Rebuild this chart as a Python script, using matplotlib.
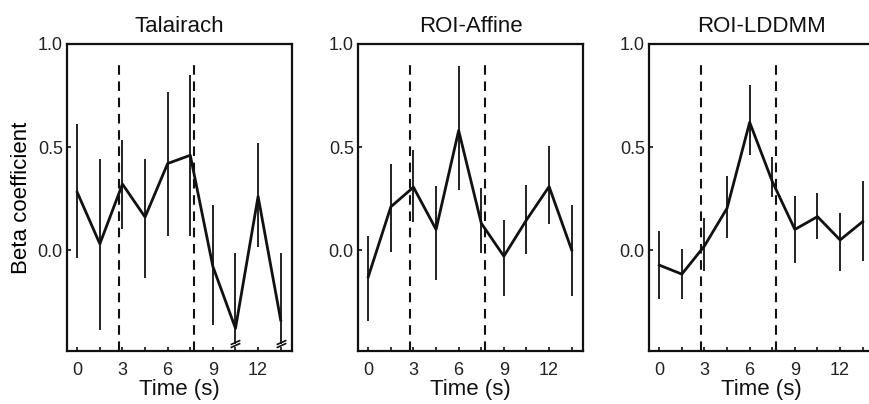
import matplotlib.pyplot as plt
import numpy as np

plt.rcParams["font.family"] = ["Liberation Sans", "DejaVu Sans"]

time_s = [0, 1.5, 3, 4.5, 6, 7.5, 9, 10.5, 12, 13.5]
titles = ["Talairach", "ROI-Affine", "ROI-LDDMM"]

tal_mean = [0.28, 0.03, 0.32, 0.16, 0.42, 0.46, -0.08, -0.38, 0.26, -0.34]
tal_low = [-0.04, -0.39, 0.10, -0.135, 0.07, 0.07, -0.365, -0.455, 0.016, -0.455]
tal_high = [0.61, 0.44, 0.535, 0.44, 0.765, 0.85, 0.22, -0.016, 0.52, -0.016]

aff_mean = [-0.13, 0.21, 0.305, 0.10, 0.58, 0.13, -0.03, 0.146, 0.308, 0.0]
aff_low = [-0.345, -0.01, 0.138, -0.146, 0.29, -0.016, -0.225, -0.021, 0.127, -0.225]
aff_high = [0.068, 0.42, 0.484, 0.313, 0.895, 0.30, 0.146, 0.317, 0.503, 0.219]

ldd_mean = [-0.073, -0.117, 0.02, 0.203, 0.62, 0.333, 0.10, 0.162, 0.049, 0.138]
ldd_low = [-0.239, -0.239, -0.10, 0.057, 0.463, 0.256, -0.065, 0.052, -0.10, -0.052]
ldd_high = [0.094, 0.003, 0.154, 0.357, 0.80, 0.451, 0.263, 0.276, 0.182, 0.333]

stim_lines = [2.75, 7.75]
broken_times = [10.5, 13.5]

series = [(tal_mean, tal_low, tal_high), (aff_mean, aff_low, aff_high),
          (ldd_mean, ldd_low, ldd_high)]

ink = "#111111"
fig = plt.figure(figsize=(8.69, 4.04), dpi=100)
W, H = 869, 404
lefts = [67, 358, 649]

for i, (mean, low, high) in enumerate(series):
    ax = fig.add_axes([lefts[i] / W, (H - 351) / H, 225 / W, 307 / H])
    mean = np.array(mean)
    yerr = [mean - np.array(low), np.array(high) - mean]
    for xv in stim_lines:
        ax.plot([xv, xv], [-0.49, 0.91], color=ink, lw=1.5,
                linestyle=(0, (4.6, 3.2)))
    ax.errorbar(time_s, mean, yerr=yerr, color=ink, lw=2.0, elinewidth=1.3,
                capsize=0)
    if i == 0:
        # break marks on truncated error bars
        for t in broken_times:
            for dy in (-0.447, -0.462):
                ax.plot(t, dy, marker=[(-1, -0.45), (1, 0.45)],
                        markersize=7, color=ink, mew=1.2, linestyle="none")
        ax.set_ylabel("Beta coefficient", fontsize=16, labelpad=4)
    ax.set_xlim(-0.68, 14.25)
    ax.set_ylim(-0.49, 1.0)
    ax.set_xticks([0, 3, 6, 9, 12])
    ax.set_xticks(time_s, minor=True)
    ax.set_yticks([0.0, 0.5, 1.0], ["0.0", "0.5", "1.0"])
    ax.tick_params(axis="x", which="both", direction="in", length=3,
                   width=1.2, pad=8, labelsize=13, color=ink, labelcolor="#222222")
    ax.tick_params(axis="y", direction="in", length=3, width=1.2, pad=3,
                   labelsize=13, color=ink, labelcolor="#222222")
    for sp in ax.spines.values():
        sp.set_linewidth(1.6)
        sp.set_color(ink)
    ax.set_title(titles[i], fontsize=16, pad=9, color="#111111")
    ax.set_xlabel("Time (s)", fontsize=16, labelpad=0, color="#111111")

fig.savefig("out.png", dpi=100)
